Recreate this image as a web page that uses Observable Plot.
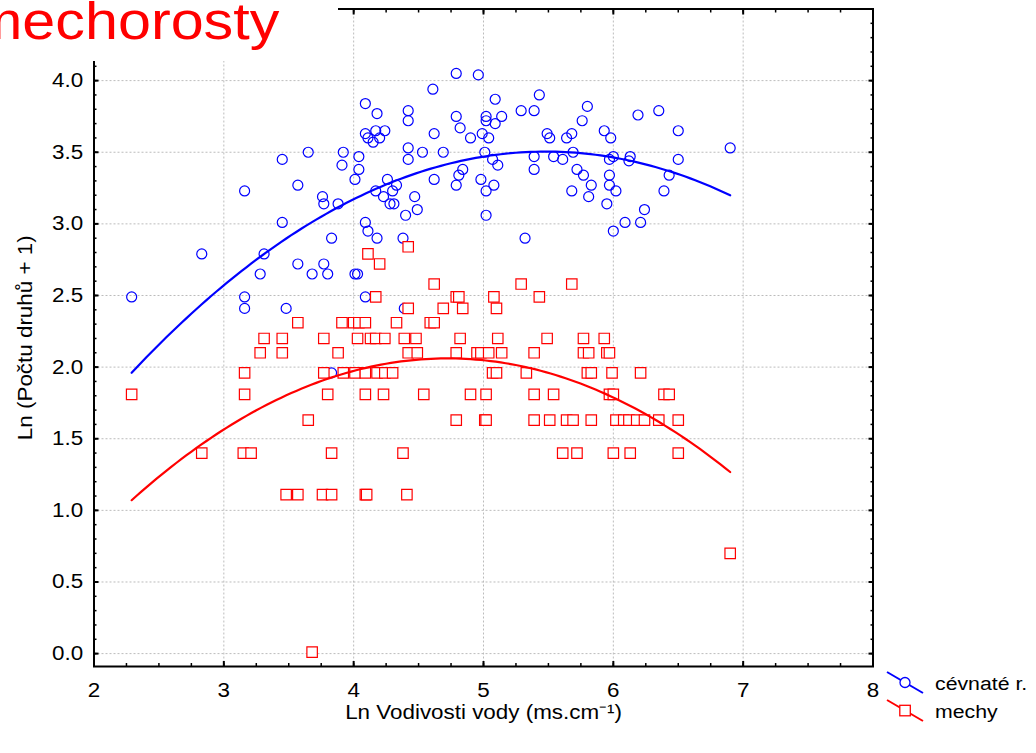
<!DOCTYPE html>
<html>
<head>
<meta charset="utf-8">
<script src="https://cdn.jsdelivr.net/npm/d3@7"></script>
<script src="https://cdn.jsdelivr.net/npm/@observablehq/plot@0.6"></script>
<style>
  html, body { margin: 0; padding: 0; background: #fff; }
  #chart { position: relative; width: 1036px; height: 753px; overflow: hidden; background: #fff; }
  #chart svg { display: block; }
  .overlay { position: absolute; left: 0; top: 0; }
</style>
</head>
<body>
<div id="chart"></div>
<script>
// Species richness, ln(count + 1), against ln water conductivity, per site
const cevnate = [
  [3.45,3.45],[3.65,3.50],[3.92,3.50],[3.91,3.41],[3.57,3.27],[3.16,3.23],[3.76,3.19],[3.77,3.14],
  [3.88,3.14],[3.45,3.01],[3.83,2.90],[2.83,2.79],[3.31,2.79],[3.57,2.72],[3.77,2.72],[3.28,2.65],
  [3.68,2.65],[3.80,2.65],[2.29,2.49],[3.16,2.49],[3.16,2.41],[3.48,2.41],[3.83,1.96],
  [4.79,4.05],[4.96,4.04],[4.61,3.94],[4.09,3.84],[4.18,3.77],[4.42,3.79],[4.42,3.72],[5.09,3.87],
  [5.43,3.90],[5.29,3.79],[5.39,3.79],[5.80,3.82],[5.76,3.72],[4.79,3.75],[5.02,3.75],[5.02,3.72],
  [5.14,3.75],[5.09,3.70],[4.82,3.67],[4.09,3.63],[4.11,3.60],[4.17,3.65],[4.24,3.65],[4.15,3.57],
  [4.20,3.60],[4.62,3.63],[4.90,3.60],[4.99,3.63],[5.04,3.60],[5.49,3.63],[5.51,3.60],[5.64,3.60],
  [5.68,3.63],[4.04,3.47],[4.04,3.38],[4.01,3.31],[4.42,3.53],[4.42,3.45],[4.53,3.50],[4.69,3.50],
  [5.01,3.50],[5.07,3.45],[5.11,3.41],[5.39,3.47],[5.39,3.38],[5.54,3.47],[5.61,3.45],[5.69,3.50],
  [5.72,3.38],[5.77,3.34],[5.83,3.27],[5.81,3.19],[5.68,3.23],[4.84,3.38],[4.81,3.34],[4.79,3.27],
  [4.62,3.31],[4.98,3.31],[5.08,3.27],[5.02,3.23],[5.02,3.06],[4.26,3.31],[4.33,3.27],[4.17,3.23],
  [4.30,3.23],[4.23,3.19],[4.28,3.14],[4.31,3.14],[4.47,3.19],[4.49,3.10],[4.40,3.06],[4.09,3.01],
  [4.11,2.95],[4.18,2.90],[4.38,2.90],[5.32,2.90],[4.01,2.65],[4.03,2.65],[4.09,2.49],[4.39,2.41],
  [5.93,3.65],[5.98,3.60],[6.19,3.76],[6.35,3.79],[6.50,3.65],[6.90,3.53],[6.00,3.47],[5.97,3.45],
  [6.13,3.47],[6.12,3.44],[6.50,3.45],[5.97,3.34],[6.43,3.34],[5.97,3.27],[6.02,3.23],[6.39,3.23],
  [5.95,3.14],[6.24,3.10],[6.09,3.01],[6.21,3.01],[6.00,2.95]
];

const mechy = [
  [3.57,2.31],[3.91,2.31],[3.31,2.20],[3.45,2.20],[3.77,2.20],[3.28,2.10],[3.45,2.10],[3.88,2.10],
  [3.16,1.96],[3.77,1.96],[3.92,1.96],[2.29,1.81],[3.16,1.81],[3.80,1.81],[3.65,1.63],[2.83,1.40],
  [3.15,1.40],[3.21,1.40],[3.83,1.40],[3.48,1.11],[3.57,1.11],[3.76,1.11],[3.83,1.11],[3.68,0.01],
  [4.42,2.84],[4.11,2.79],[4.20,2.72],[4.62,2.58],[5.29,2.58],[5.68,2.58],[4.17,2.49],[4.79,2.49],
  [4.81,2.49],[5.08,2.49],[5.43,2.49],[4.42,2.41],[4.69,2.41],[4.84,2.41],[5.10,2.41],
  [4.00,2.31],[4.04,2.31],[4.09,2.31],[4.33,2.31],[4.59,2.31],[4.62,2.31],
  [4.03,2.20],[4.13,2.20],[4.17,2.20],[4.24,2.20],[4.39,2.20],[4.48,2.20],[4.82,2.20],[5.11,2.20],
  [5.49,2.20],[5.77,2.20],[5.93,2.20],
  [4.42,2.10],[4.49,2.10],[4.79,2.10],[4.95,2.10],[4.98,2.10],[5.04,2.10],[5.14,2.10],[5.39,2.10],
  [5.77,2.10],[5.81,2.10],[5.95,2.10],[5.97,2.10],
  [4.01,1.96],[4.09,1.96],[4.18,1.96],[4.24,1.96],[4.30,1.96],[5.07,1.96],[5.10,1.96],[5.33,1.96],
  [5.80,1.96],[5.83,1.96],[5.99,1.96],[6.21,1.96],
  [4.09,1.81],[4.23,1.81],[4.54,1.81],[4.90,1.81],[5.02,1.81],[5.39,1.81],[5.54,1.81],[5.97,1.81],
  [6.00,1.81],[6.39,1.81],[6.43,1.81],
  [4.79,1.63],[5.01,1.63],[5.02,1.63],[5.39,1.63],[5.51,1.63],[5.64,1.63],[5.69,1.63],[5.83,1.63],
  [6.02,1.63],[6.08,1.63],[6.12,1.63],[6.18,1.63],[6.24,1.63],[6.35,1.63],[6.50,1.63],
  [4.38,1.40],[5.61,1.40],[5.72,1.40],[6.00,1.40],[6.13,1.40],[6.50,1.40],
  [4.09,1.11],[4.10,1.11],[4.41,1.11],[6.90,0.70]
];

// Quadratic fits y = a + b·x + c·x² as reported with the plot
const cevnateFit = [-1.0506, 1.6620, -0.1516];
const mechyFit = [-1.6702, 1.5801, -0.16729];

const xTicks = [2, 3, 4, 5, 6, 7, 8];
const yTicks = [0, 0.5, 1, 1.5, 2, 2.5, 3, 3.5, 4];
const xMinor = d3.range(2, 8.001, 0.25);
const yMinor = d3.range(0, 4.501, 0.1);
const xDomain = [2, 8];
const yDomain = [-0.09, 4.5];

const seriesNames = ["cévnaté r.", "mechy"];
const seriesColors = ["#0000ff", "#ff0000"];
const titleText = "mechorosty";
const xLabel = "Ln Vodivosti vody (ms.cm\u207B\u00B9)";
const yLabel = "Ln (Počtu druhů + 1)";

// Sample a fitted parabola across the x-range covered by its own points
function fitCurve(pts, [a, b, c]) {
  const [lo, hi] = d3.extent(pts, d => d[0]);
  const n = 120;
  return d3.range(n + 1).map(i => {
    const x = lo + (hi - lo) * i / n;
    return {x, y: a + b * x + c * x * x};
  });
}

const fitCevnate = fitCurve(cevnate, cevnateFit);
const fitMechy = fitCurve(mechy, mechyFit);

const fmt = d3.format(".1f");
const blank = () => "";
const FONT = "'Liberation Sans', Arial, sans-serif";
const STRETCH = 1.12; // the lettering is set a little wide

const chart = Plot.plot({
  width: 1036,
  height: 753,
  marginLeft: 93.5,
  marginRight: 163.5,
  marginTop: 8.5,
  marginBottom: 87,
  style: {
    fontFamily: FONT,
    fontSize: "20px",
    color: "#000",
    background: "#fff"
  },
  x: {domain: xDomain},
  y: {domain: yDomain},
  marks: [
    Plot.gridX(xTicks.slice(1, -1), {stroke: "#bcbcbc", strokeOpacity: 1, strokeDasharray: "2,2"}),
    Plot.gridY(yTicks, {stroke: "#bcbcbc", strokeOpacity: 1, strokeDasharray: "2,2"}),
    Plot.dot(cevnate, {x: d => d[0], y: d => d[1], r: 5, fill: "none", stroke: seriesColors[0], strokeWidth: 1.2}),
    Plot.dot(mechy, {x: d => d[0], y: d => d[1], symbol: "square", r: 5.9, fill: "white", stroke: seriesColors[1], strokeWidth: 1.2}),
    Plot.line(fitCevnate, {x: "x", y: "y", stroke: seriesColors[0], strokeWidth: 2.2}),
    Plot.line(fitMechy, {x: "x", y: "y", stroke: seriesColors[1], strokeWidth: 2.2}),
    Plot.frame({stroke: "#000", strokeWidth: 2}),
    // minor ticks on all four sides, pointing inward
    Plot.axisX(xMinor, {anchor: "bottom", tickSize: -3, tickFormat: blank, label: null, strokeWidth: 1.5}),
    Plot.axisX(xMinor, {anchor: "top", tickSize: -3, tickFormat: blank, label: null, strokeWidth: 1.5}),
    Plot.axisY(yMinor, {anchor: "left", tickSize: -3, tickFormat: blank, label: null, strokeWidth: 1.5}),
    Plot.axisY(yMinor, {anchor: "right", tickSize: -3, tickFormat: blank, label: null, strokeWidth: 1.5}),
    // major ticks and labels
    Plot.axisX(xTicks, {anchor: "bottom", tickSize: -5, tickPadding: 21, tickFormat: d => d, strokeWidth: 2,
      label: xLabel, labelAnchor: "center", labelArrow: "none", labelOffset: 52}),
    Plot.axisX(xTicks, {anchor: "top", tickSize: -5, tickFormat: blank, label: null, strokeWidth: 2}),
    Plot.axisY(yTicks, {anchor: "left", tickSize: -5, tickPadding: 15.8, tickFormat: fmt, strokeWidth: 2,
      label: yLabel, labelAnchor: "center", labelArrow: "none", labelOffset: 76}),
    Plot.axisY(yTicks, {anchor: "right", tickSize: -5, tickFormat: blank, label: null, strokeWidth: 2})
  ]
});

const root = document.getElementById("chart");
root.appendChild(chart);

// Widen the chart lettering in place (positions and anchors are left untouched)
d3.select(chart).selectAll("text").each(function () {
  const len = this.getComputedTextLength();
  if (len > 0) {
    this.setAttribute("textLength", (len * STRETCH).toFixed(2));
    this.setAttribute("lengthAdjust", "spacingAndGlyphs");
  }
});

// Title block in the upper-left corner
const titleSvg = d3.create("svg")
  .attr("class", "overlay")
  .attr("width", 338)
  .attr("height", 61);
titleSvg.append("rect").attr("width", 338).attr("height", 61).attr("fill", "#fff");
titleSvg.append("text")
  .attr("transform", "translate(-27,39.3) scale(1.14,1)")
  .attr("fill", "#ff0000")
  .attr("font-family", FONT)
  .attr("font-size", 52)
  .text(titleText);
root.appendChild(titleSvg.node());

// Legend at the lower right
const legend = d3.create("svg")
  .attr("class", "overlay")
  .attr("width", 1036)
  .attr("height", 753)
  .style("pointer-events", "none");
const items = legend.selectAll("g")
  .data(seriesNames)
  .join("g")
  .attr("transform", (d, i) => `translate(0,${i * 28})`);
items.append("line")
  .attr("x1", 887).attr("y1", 672).attr("x2", 923).attr("y2", 693)
  .attr("stroke", (d, i) => seriesColors[i])
  .attr("stroke-width", 2);
items.each(function (d, i) {
  const g = d3.select(this);
  if (i === 0) {
    g.append("circle").attr("cx", 905).attr("cy", 682.5).attr("r", 5)
      .attr("fill", "#fff").attr("stroke", seriesColors[i]).attr("stroke-width", 1.3);
  } else {
    g.append("rect").attr("x", 899.8).attr("y", 677.3).attr("width", 10.5).attr("height", 10.5)
      .attr("fill", "#fff").attr("stroke", seriesColors[i]).attr("stroke-width", 1.3);
  }
});
items.append("text")
  .attr("transform", `translate(935,689.5) scale(${STRETCH},1)`)
  .attr("font-family", FONT)
  .attr("font-size", 19)
  .attr("fill", "#000")
  .text(d => d);
root.appendChild(legend.node());
</script>
</body>
</html>
